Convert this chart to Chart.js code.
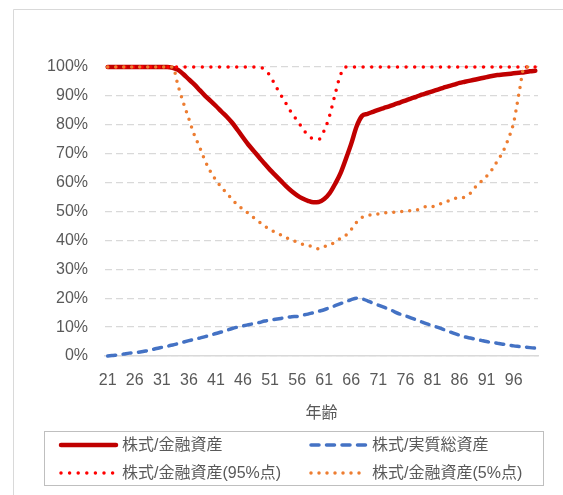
<!DOCTYPE html>
<html lang="ja">
<head>
<meta charset="utf-8">
<title>株式比率の推移</title>
<script src="https://cdn.jsdelivr.net/npm/chart.js@4.4.1/dist/chart.umd.min.js"></script>
<style>
  html, body { margin: 0; padding: 0; background: #fff; }
  canvas { display: block; }
</style>
</head>
<body>
<canvas id="chart" width="563" height="495"></canvas>
<script>
(() => {
  'use strict';

  const FONT = '"Liberation Sans", "Noto Sans CJK JP", sans-serif';
  const TEXT = '#595959';

  // Age axis (21..100) and the ages that get a label
  const ages = [
    21, 22, 23, 24, 25, 26, 27, 28, 29, 30,
    31, 32, 33, 34, 35, 36, 37, 38, 39, 40,
    41, 42, 43, 44, 45, 46, 47, 48, 49, 50,
    51, 52, 53, 54, 55, 56, 57, 58, 59, 60,
    61, 62, 63, 64, 65, 66, 67, 68, 69, 70,
    71, 72, 73, 74, 75, 76, 77, 78, 79, 80,
    81, 82, 83, 84, 85, 86, 87, 88, 89, 90,
    91, 92, 93, 94, 95, 96, 97, 98, 99, 100,
  ];
  const tickAges = [21, 26, 31, 36, 41, 46, 51, 56, 61, 66, 71, 76, 81, 86, 91, 96];
  const yTicks = [0, 10, 20, 30, 40, 50, 60, 70, 80, 90, 100];

  // Shares in %, one value per age
  const stockFin = [
    100, 100, 100, 100, 100, 100, 100, 100, 100, 100,
    100, 100, 99.7, 99, 97.5, 95.7, 94, 92, 90, 88.3,
    86.5, 84.6, 82.8, 80.7, 78.2, 75.6, 73.1, 70.9, 68.7, 66.5,
    64.4, 62.5, 60.6, 58.7, 57, 55.6, 54.5, 53.7, 53.2, 53.3,
    54.3, 56.3, 59.5, 63.2, 68.2, 73.5, 79.5, 83.1, 83.8, 84.5,
    85.2, 85.8, 86.4, 87.1, 87.7, 88.4, 89.1, 89.7, 90.4, 91,
    91.6, 92.2, 92.8, 93.4, 93.9, 94.5, 94.9, 95.3, 95.7, 96.1,
    96.5, 96.9, 97.2, 97.4, 97.6, 97.8, 98, 98.2, 98.5, 98.7,
  ];
  const stockReal = [
    0, 0.2, 0.4, 0.7, 1, 1.2, 1.4, 1.7, 2.1, 2.6,
    3, 3.4, 3.8, 4.3, 4.8, 5.3, 5.8, 6.2, 6.7, 7.2,
    7.8, 8.3, 8.9, 9.5, 10, 10.4, 10.8, 11.2, 11.6, 12.1,
    12.4, 12.7, 13, 13.3, 13.6, 13.7, 14.1, 14.5, 15, 15.5,
    16, 16.7, 17.4, 18.1, 18.8, 19.5, 20, 19.8, 19.1, 18.3,
    17.6, 16.9, 16.2, 15.3, 14.5, 13.9, 13.2, 12.5, 11.8, 11.1,
    10.5, 9.9, 9.2, 8.5, 7.8, 7.2, 6.6, 6.2, 5.8, 5.4,
    5, 4.7, 4.4, 4.1, 3.8, 3.5, 3.3, 3.1, 2.9, 2.7,
  ];
  const stockFin95 = [
    100, 100, 100, 100, 100, 100, 100, 100, 100, 100,
    100, 100, 100, 100, 100, 100, 100, 100, 100, 100,
    100, 100, 100, 100, 100, 100, 100, 100, 100, 99,
    97, 93.5, 90.3, 87.2, 84, 81.5, 78.8, 76.3, 75.2, 75,
    78, 83.2, 90.5, 97.2, 100, 100, 100, 100, 100, 100,
    100, 100, 100, 100, 100, 100, 100, 100, 100, 100,
    100, 100, 100, 100, 100, 100, 100, 100, 100, 100,
    100, 100, 100, 100, 100, 100, 100, 100, 100, 100,
  ];
  const stockFin5 = [
    100, 100, 100, 100, 100, 100, 100, 100, 100, 100,
    100, 100, 100, 93.5, 87.5, 82, 76.5, 72.2, 67.5, 63.8,
    60.8, 58.4, 56.3, 54.2, 52.2, 50.8, 49.3, 47.8, 46.4, 45,
    43.7, 42.8, 41.9, 40.9, 40.1, 39.4, 38.7, 38.3, 37.6, 37.1,
    37.8, 38.6, 39.3, 40.7, 41.8, 43.8, 46.3, 48, 48.6, 48.9,
    49.2, 49.5, 49.7, 49.8, 50, 50.1, 50.3, 50.5, 51.2, 51.7,
    51.7, 52.3, 53, 53.7, 54.5, 54.7, 55, 56.3, 58.6, 60.4,
    62.2, 64.5, 67.5, 70.6, 75, 80.7, 91, 100, 100, 100,
  ];

  const line = (label, data, color, width, dash, order) => ({
    label,
    data,
    borderColor: color,
    backgroundColor: color,
    borderWidth: width,
    borderDash: dash,
    borderCapStyle: 'round',
    borderJoinStyle: 'round',
    cubicInterpolationMode: 'monotone',
    pointRadius: 0,
    pointHoverRadius: 0,
    fill: false,
    clip: false,
    order,
  });

  // Light frame around the chart
  const framePlugin = {
    id: 'frame',
    beforeDraw(chart) {
      const { ctx, width, height } = chart;
      ctx.save();
      ctx.fillStyle = '#fff';
      ctx.fillRect(0, 0, width, height);
      ctx.strokeStyle = '#D9D9D9';
      ctx.lineWidth = 1;
      ctx.beginPath();
      ctx.moveTo(13.5, height);
      ctx.lineTo(13.5, 9.5);
      ctx.lineTo(width, 9.5);
      ctx.stroke();
      ctx.restore();
    },
  };

  // Two-column boxed legend below the axis title
  const boxLegend = {
    id: 'boxLegend',
    afterDraw(chart) {
      const { ctx } = chart;
      const cols = [61, 311];
      const rows = [445, 473];
      const sample = 55;
      ctx.save();
      ctx.strokeStyle = '#BFBFBF';
      ctx.lineWidth = 1;
      ctx.strokeRect(44.5, 431.5, 499, 54);
      chart.data.datasets.forEach((ds, i) => {
        const x = cols[i % 2];
        const y = rows[Math.floor(i / 2)];
        ctx.save();
        ctx.strokeStyle = ds.borderColor;
        ctx.lineWidth = ds.borderWidth;
        ctx.lineCap = 'round';
        ctx.setLineDash(ds.borderDash);
        ctx.beginPath();
        ctx.moveTo(x, y);
        ctx.lineTo(x + sample, y);
        ctx.stroke();
        ctx.restore();
        ctx.fillStyle = TEXT;
        ctx.font = '16px ' + FONT;
        ctx.textBaseline = 'middle';
        ctx.fillText(ds.label, x + sample + 6, y + 1);
      });
      ctx.restore();
    },
  };

  new Chart(document.getElementById('chart'), {
    type: 'line',
    data: {
      labels: ages,
      datasets: [
        line('株式/金融資産', stockFin, '#C00000', 4.5, [], 4),
        line('株式/実質総資産', stockReal, '#4472C4', 3.5, [8, 7.5], 3),
        line('株式/金融資産(95%点)', stockFin95, '#FF0000', 3.5, [0, 8.6], 2),
        line('株式/金融資産(5%点)', stockFin5, '#ED7D31', 3.5, [0, 8], 1),
      ],
    },
    options: {
      responsive: false,
      devicePixelRatio: 1,
      animation: false,
      layout: { padding: { left: 0, top: 67, right: 25, bottom: 70 } },
      plugins: {
        legend: { display: false },
        tooltip: { enabled: false },
      },
      scales: {
        x: {
          type: 'category',
          offset: true,
          grid: { display: false, drawTicks: false },
          border: { display: true, color: '#D9D9D9', width: 1.5 },
          ticks: {
            autoSkip: false,
            maxRotation: 0,
            padding: 15,
            color: TEXT,
            font: { family: FONT, size: 16 },
            callback(value, index) {
              const age = ages[index];
              return tickAges.includes(age) ? String(age) : null;
            },
          },
          title: {
            display: true,
            text: '年齢',
            color: TEXT,
            font: { family: FONT, size: 16 },
            padding: { top: 0, bottom: 2 },
          },
          afterFit(scale) { scale.height = 69; },
        },
        y: {
          min: 0,
          max: 100,
          grid: { color: '#D9D9D9', lineWidth: 1.3, drawTicks: false },
          border: { display: false, dash: [7, 4] },
          afterBuildTicks(scale) { scale.ticks = yTicks.map(v => ({ value: v })); },
          ticks: {
            padding: 17,
            color: TEXT,
            font: { family: FONT, size: 16 },
            callback: v => v + '%',
          },
          afterFit(scale) { scale.width = 105; },
        },
      },
    },
    plugins: [framePlugin, boxLegend],
  });
})();
</script>
</body>
</html>
